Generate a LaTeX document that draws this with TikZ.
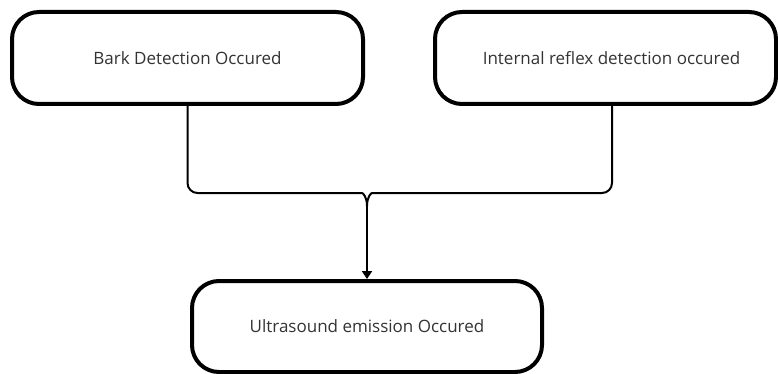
\documentclass[tikz,border=0pt]{standalone}
\usepackage{fontspec}
\setmainfont{Open Sans}
\usetikzlibrary{calc,arrows.meta}
\begin{document}
\begin{tikzpicture}[x=1pt,y=-1pt,
  box/.style={draw=black,line width=4pt,rounded corners=27pt,fill=white,
    text=black!80,font=\fontsize{17}{20}\selectfont,inner sep=0pt},
  link/.style={draw=black,line width=2pt,line join=round},
  tipend/.style={-{Triangle[length=8pt,width=10pt]}}]
\useasboundingbox (0,0) rectangle (778,374);
\node[box,minimum width=351pt,minimum height=92pt] (b1) at (187.5,58) {Bark Detection Occured};
\node[box,minimum width=341pt,minimum height=92pt] (b2) at (605.5,58) {\hspace{12pt}Internal reflex detection occured};
\node[box,minimum width=350pt,minimum height=91pt] (b3) at (367,326.5) {Ultrasound emission Occured};
\coordinate (j) at (367,193);
\coordinate (s2) at ($(b2.south)+(6.5,0)$);
\draw[link,rounded corners=10pt] (b1.south) -- (b1.south |- j) -- ($(j)+(-15,0)$)
  [sharp corners] .. controls ($(j)+(-4,0)$) and ($(j)+(0,4)$) .. ($(j)+(0,13)$);
\draw[link,rounded corners=10pt] (s2) -- (s2 |- j) -- ($(j)+(15,0)$)
  [sharp corners] .. controls ($(j)+(4,0)$) and ($(j)+(0,4)$) .. ($(j)+(0,13)$);
\draw[link,tipend] ($(j)+(0,13)$) -- (b3.north);
\end{tikzpicture}
\end{document}
